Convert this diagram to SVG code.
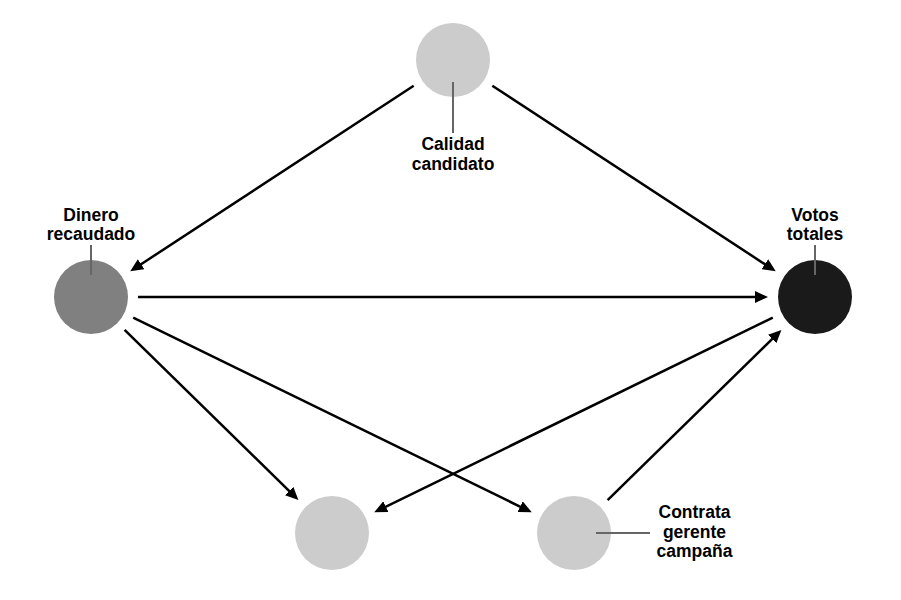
<svg xmlns="http://www.w3.org/2000/svg" width="901" height="600" viewBox="0 0 901 600">
<style>
.lbl{font-family:"Liberation Sans",Arial,Helvetica,sans-serif;font-weight:bold;font-size:17.5px;fill:#000;text-anchor:middle}
.leader{stroke:#666;stroke-width:2;fill:none}
.edge{stroke:#000;stroke-width:2.5;fill:none;marker-end:url(#ah)}
</style>
<defs>
<marker id="ah" markerUnits="userSpaceOnUse" markerWidth="13" markerHeight="12" refX="6" refY="6" orient="auto">
<path d="M0,0 L13,6 L0,12 Z" fill="#000"/>
</marker>
</defs>
<rect width="901" height="600" fill="#fff"/>
<g id="connectors">
<line class="edge" x1="413.7" y1="85.7" x2="136.1" y2="267.5"/>
<line class="edge" x1="492.3" y1="85.7" x2="769.9" y2="267.5"/>
<line class="edge" x1="138" y1="297" x2="761" y2="297"/>
<line class="edge" x1="124.6" y1="329.9" x2="293.4" y2="495.2"/>
<line class="edge" x1="133.2" y1="317.6" x2="525.5" y2="509.3"/>
<line class="edge" x1="772.8" y1="317.6" x2="380.5" y2="509.3"/>
<line class="edge" x1="607.6" y1="500.1" x2="776.4" y2="334.8"/>
</g>
<g id="calidad">
<circle cx="453" cy="60" r="37" fill="#ccc"/>
<line class="leader" x1="453" y1="82" x2="453" y2="133"/>
<text class="lbl" x="453" y="150">Calidad</text>
<text class="lbl" x="453" y="169.5">candidato</text>
</g>
<g id="dinero">
<circle cx="91" cy="297" r="37" fill="#808080"/>
<line class="leader" x1="91" y1="245" x2="91" y2="275"/>
<text class="lbl" x="91" y="220.5">Dinero</text>
<text class="lbl" x="91" y="240">recaudado</text>
</g>
<g id="votos">
<circle cx="815" cy="297" r="37" fill="#1a1a1a"/>
<line class="leader" x1="815" y1="245" x2="815" y2="275"/>
<text class="lbl" x="815" y="220.5">Votos</text>
<text class="lbl" x="815" y="240">totales</text>
</g>
<g id="nodo-inferior">
<circle cx="332" cy="533" r="37" fill="#ccc"/>
</g>
<g id="contrata">
<circle cx="574" cy="533" r="37" fill="#ccc"/>
<line class="leader" x1="596" y1="533" x2="650" y2="533"/>
<text class="lbl" x="694.5" y="518">Contrata</text>
<text class="lbl" x="694.5" y="537.5">gerente</text>
<text class="lbl" x="694.5" y="557">campaña</text>
</g>
</svg>
